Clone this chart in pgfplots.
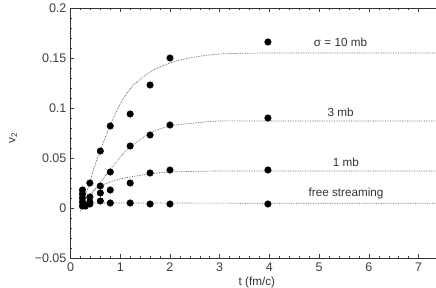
\documentclass[border=0pt]{standalone}
\usepackage{pgfplots}
\pgfplotsset{compat=1.18}
\usepackage{fontspec}
\setmainfont{Liberation Sans}
\begin{document}
\fontsize{11.7}{14}\selectfont
\begin{tikzpicture}
\path[use as bounding box] (-70.5pt,-29pt) rectangle (365.5pt,258pt);
\begin{axis}[
  scale only axis, width=365.5pt, height=250pt,
  xmin=0, xmax=7.35, ymin=-0.05, ymax=0.2,
  axis y line*=left, axis x line*=box,
  tick align=inside,
  xtick={0,1,2,3,4,5,6,7},
  ytick={-0.05,0,0.05,0.1,0.15,0.2},
  yticklabels={−0.05,0,0.05,0.1,0.15,0.2},
  minor x tick num=4, minor y tick num=4,
  major tick length=4pt, minor tick length=2pt,
  every tick/.style={black!75, line width=0.5pt},
  axis line style={black!80, line width=0.6pt},
  /pgf/number format/assume math mode=true,
  tick label style={font=\fontsize{12.5}{14}\selectfont, text=black!75},
  xticklabel style={yshift=-1pt},
  xlabel={t (fm/c)},
  xlabel style={at={(axis description cs:0.51,0)}, anchor=north, yshift=-14.5pt, text=black!80},
  ylabel={v\textsubscript{2}},
  ylabel style={at={(axis description cs:-0.157,0.48)}, anchor=center, text=black!80},
  clip=true,
]
% dotted curves
\addplot[black!65, densely dotted, line width=0.7pt, smooth, tension=0.5] coordinates {
(0.2,-0.003) (0.3,0.012) (0.4,0.028) (0.5,0.044) (0.6,0.058) (0.8,0.083) (1.0,0.104)
(1.25,0.122) (1.6,0.136) (2.0,0.145) (2.4,0.150) (3.0,0.154) (4.0,0.155) (5.0,0.155) (7.35,0.155)};
\addplot[black!65, densely dotted, line width=0.7pt, smooth, tension=0.5] coordinates {
(0.25,0.000) (0.4,0.012) (0.6,0.026) (0.8,0.038) (1.0,0.051) (1.2,0.061) (1.6,0.075)
(2.0,0.082) (2.5,0.085) (3.0,0.087) (4.0,0.087) (7.35,0.087)};
\addplot[black!65, densely dotted, line width=0.7pt, smooth, tension=0.5] coordinates {
(0.25,0.003) (0.35,0.011) (0.45,0.017) (0.6,0.022) (0.8,0.026) (1.0,0.029) (1.2,0.031)
(1.6,0.034) (2.0,0.036) (3.0,0.037) (4.0,0.037) (7.35,0.037)};
\addplot[black!65, densely dotted, line width=0.7pt] coordinates {
(0.3,0.005) (1.0,0.005) (4.0,0.0048) (7.35,0.0047)};
% data points
\addplot[only marks, mark=*, mark size=3.3pt, black] coordinates {
(0.24,0.018) (0.39,0.025) (0.6,0.057) (0.8,0.082) (1.2,0.094) (1.6,0.123) (2.0,0.150) (3.97,0.166)};
\addplot[only marks, mark=*, mark size=3.3pt, black] coordinates {
(0.24,0.014) (0.39,0.011) (0.6,0.022) (0.8,0.036) (1.2,0.062) (1.6,0.073) (2.0,0.083) (3.97,0.090)};
\addplot[only marks, mark=*, mark size=3.3pt, black] coordinates {
(0.24,0.010) (0.39,0.006) (0.6,0.015) (0.8,0.018) (1.2,0.025) (1.6,0.035) (2.0,0.038) (3.97,0.038)};
\addplot[only marks, mark=*, mark size=3.3pt, black] coordinates {
(0.24,0.006) (0.24,0.002) (0.3,0.002) (0.39,0.004) (0.6,0.007) (0.8,0.005) (1.2,0.005) (1.6,0.004) (2.0,0.004) (3.97,0.004)};
\node[text=black!80, font=\fontsize{11.7}{14}\selectfont] at (axis cs:5.43,0.166) {σ = 10 mb};
\node[text=black!80, font=\fontsize{11.7}{14}\selectfont] at (axis cs:5.43,0.096) {3 mb};
\node[text=black!80, font=\fontsize{11.7}{14}\selectfont] at (axis cs:5.54,0.046) {1 mb};
\node[text=black!80, font=\fontsize{11.7}{14}\selectfont] at (axis cs:5.54,0.015) {free streaming};
\end{axis}
\end{tikzpicture}
\end{document}
